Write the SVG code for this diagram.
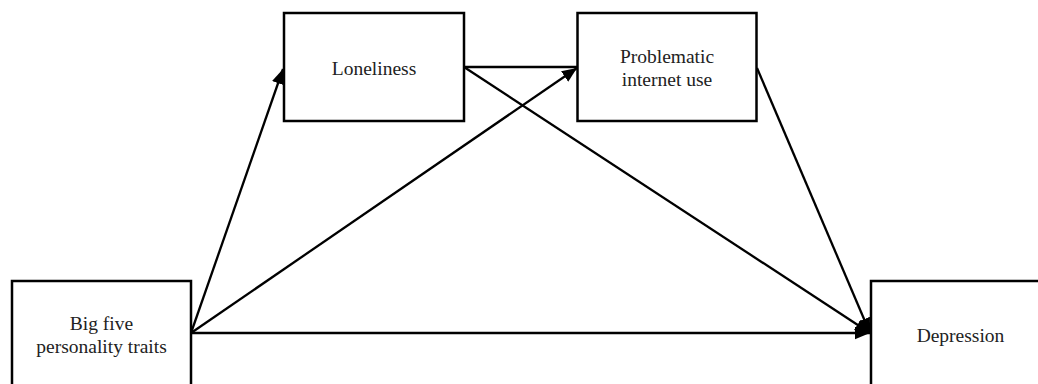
<svg xmlns="http://www.w3.org/2000/svg" width="1038" height="384" viewBox="0 0 1038 384">
<style>
.box{fill:#fff;stroke:#000;stroke-width:2.5}
.lbl{font-family:"Liberation Serif","Times New Roman",serif;font-size:19.5px;fill:#222;text-anchor:middle}
.edge{stroke:#000;stroke-width:2.3;fill:none}
</style>
<defs>
<marker id="ah" markerUnits="userSpaceOnUse" markerWidth="15" markerHeight="13" refX="13" refY="5.5" orient="auto" viewBox="0 0 13 11">
<path d="M0,0 L13,5.5 L0,11 Z" fill="#000"/>
</marker>
</defs>
<rect width="1038" height="384" fill="#fff"/>
<g id="connectors">
<line class="edge" x1="191" y1="333" x2="283" y2="69" marker-end="url(#ah)"/>
<line class="edge" x1="191" y1="333" x2="577" y2="68" marker-end="url(#ah)"/>
<line class="edge" x1="191" y1="333" x2="870" y2="333" marker-end="url(#ah)"/>
<line class="edge" x1="464" y1="67" x2="577" y2="67"/>
<line class="edge" x1="464" y1="67" x2="870" y2="333" marker-end="url(#ah)"/>
<line class="edge" x1="757" y1="68" x2="870" y2="333" marker-end="url(#ah)"/>
</g>
<g id="bigfive">
<rect class="box" x="12" y="281" width="179" height="130"/>
<text class="lbl" x="101.5" y="330">Big five</text>
<text class="lbl" x="101.5" y="353">personality traits</text>
</g>
<g id="loneliness">
<rect class="box" x="284" y="13" width="180" height="108"/>
<text class="lbl" x="374" y="75">Loneliness</text>
</g>
<g id="piu">
<rect class="box" x="577.5" y="13" width="179" height="108"/>
<text class="lbl" x="667" y="63">Problematic</text>
<text class="lbl" x="667" y="86">internet use</text>
</g>
<g id="depression">
<rect class="box" x="871" y="281" width="180" height="130"/>
<text class="lbl" x="960.5" y="342">Depression</text>
</g>
</svg>
